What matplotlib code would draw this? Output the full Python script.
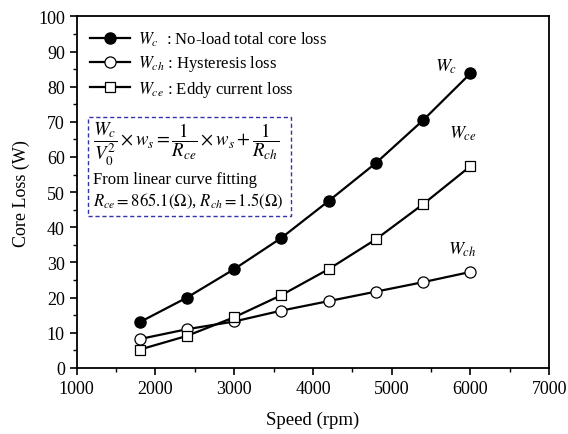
import matplotlib
matplotlib.use("Agg")
import matplotlib.pyplot as plt
from matplotlib.patches import Rectangle
from matplotlib.ticker import MultipleLocator

plt.rcParams['font.family'] = ['Liberation Serif', 'DejaVu Serif']
plt.rcParams['mathtext.fontset'] = 'stix'

speed = [1800, 2400, 3000, 3600, 4200, 4800, 5400, 6000]
w_c = [13.0, 20.0, 28.1, 37.0, 47.5, 58.3, 70.5, 83.8]
w_ch = [8.2, 11.0, 13.2, 16.3, 19.0, 21.7, 24.4, 27.3]
w_ce = [5.2, 9.1, 14.4, 20.7, 28.1, 36.6, 46.6, 57.4]

fig = plt.figure(figsize=(5.68, 4.35), dpi=100)
ax = fig.add_axes([0.135, 0.152, 0.832, 0.808])

ax.plot(speed, w_c, c="black", lw=1.6, marker="o", ms=8, mfc="black", mec="black",
        label=r"$W_c$  : No-load total core loss")
ax.plot(speed, w_ch, c="black", lw=1.6, marker="o", ms=8, mfc="white", mec="black",
        mew=0.9, label=r"$W_{ch}$ : Hysteresis loss")
ax.plot(speed, w_ce, c="black", lw=1.6, marker="s", ms=7.5, mfc="white", mec="black",
        mew=0.9, label=r"$W_{ce}$ : Eddy current loss")

ax.set_xlim(1000, 7000)
ax.set_ylim(0, 100)
ax.xaxis.set_major_locator(MultipleLocator(1000))
ax.xaxis.set_minor_locator(MultipleLocator(500))
ax.yaxis.set_major_locator(MultipleLocator(10))
ax.yaxis.set_minor_locator(MultipleLocator(5))
ax.tick_params(which="both", direction="out", top=False, right=False, labelsize=13)
ax.tick_params(which="major", length=5, width=1.2)
ax.tick_params(which="minor", length=3, width=1.0)
for s in ax.spines.values():
    s.set_linewidth(1.3)

ax.set_xlabel("Speed (rpm)", fontsize=13.5, labelpad=10)
ax.set_ylabel("Core Loss (W)", fontsize=13, labelpad=6)

ax.legend(loc="upper left", frameon=False, fontsize=12, handlelength=2.4,
          handletextpad=0.5, borderaxespad=0.4, labelspacing=0.32,
          bbox_to_anchor=(0.0, 1.0))

# curve labels
ax.text(5690, 86, r"$W_c$", fontsize=13, ha="center", va="center")
ax.text(5900, 67, r"$W_{ce}$", fontsize=13, ha="center", va="center")
ax.text(5900, 34, r"$W_{ch}$", fontsize=13, ha="center", va="center")

# fitting box
ax.add_patch(Rectangle((0.023, 0.431), 0.43, 0.284, transform=ax.transAxes, fill=False,
                       ec="#3333aa", ls=(0, (3, 2)), lw=1.0))
ax.text(0.035, 0.64, r"$\dfrac{W_c}{V_0^2}\times w_s=\dfrac{1}{R_{ce}}\times w_s+\dfrac{1}{R_{ch}}$",
        transform=ax.transAxes, fontsize=13.5, va="center")
ax.text(0.035, 0.537, "From linear curve fitting", transform=ax.transAxes, fontsize=12,
        va="center")
ax.text(0.035, 0.477, r"$R_{ce}=865.1(\Omega)$, $R_{ch}=1.5(\Omega)$", transform=ax.transAxes,
        fontsize=12, va="center")

fig.savefig("out.png", dpi=100)
